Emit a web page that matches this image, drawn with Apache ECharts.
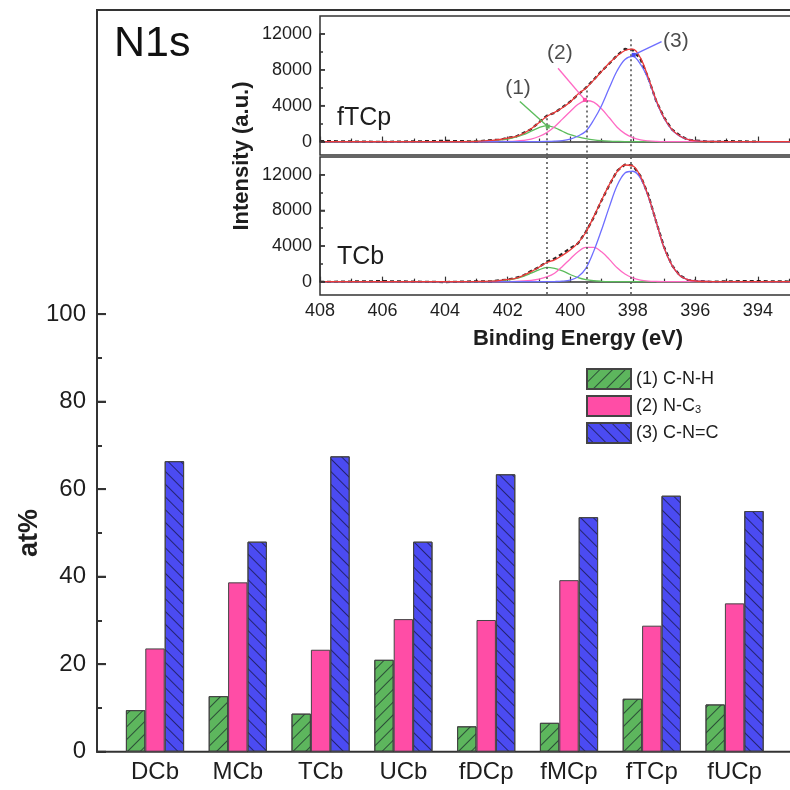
<!DOCTYPE html>
<html>
<head>
<meta charset="utf-8">
<script src="https://cdn.jsdelivr.net/npm/echarts@6/dist/echarts.min.js"></script>
<style>
  html, body { margin: 0; padding: 0; background: #fff; }
  #chart { width: 790px; height: 790px; }
</style>
</head>
<body>
<div id="chart"></div>
<script>
// ---- N1s component fractions (at%) per sample ----
const samples = ['DCb', 'MCb', 'TCb', 'UCb', 'fDCp', 'fMCp', 'fTCp', 'fUCp'];
const seriesNames = ['(1) C-N-H', '(2) N-C3', '(3) C-N=C'];
const cnh = [9.5, 12.7, 8.7, 21.0, 5.8, 6.6, 12.1, 10.8];
const nc3 = [23.6, 38.7, 23.3, 30.3, 30.1, 39.2, 28.8, 33.9];
const cnc = [66.4, 48.0, 67.5, 48.0, 63.4, 53.6, 58.5, 55.0];
const atMajorTicks = [0, 20, 40, 60, 80, 100];
const intensityMajorTicks = [0, 4000, 8000, 12000];

// ---- N1s spectra (inset), binding energy in eV ----
const bindingEnergy = [408, 406, 404, 403, 402.5, 402.25, 402, 401.75, 401.5, 401.25, 401, 400.75, 400.5, 400.25,
  400, 399.75, 399.5, 399.25, 399, 398.75, 398.5, 398.25, 398, 397.75, 397.5, 397.25, 397, 396.75, 396.5,
  396.25, 396, 395.5, 395, 394, 392, 390];

// fTCp
const fTCpRaw = [60, -40, 80, 10, 170, 200, 420, 520, 950, 1380, 2150, 2880, 3200, 3820, 4460, 5230, 6000, 6900,
  7850, 8700, 9620, 10330, 10200, 9150, 7050, 4500, 2700, 1350, 700, 200, 120, -30, 50, -20, null, null];
const fTCpFit = [0, 0, 0, 30, 130, 230, 380, 560, 900, 1420, 2100, 2800, 3250, 3760, 4400, 5300, 5950, 6850,
  7800, 8750, 9550, 10150, 10300, 9300, 7100, 4600, 2650, 1350, 620, 240, 80, 10, 0, 0, 0, 0];
const fTCpPeak1 = [0, 0, 0, 10, 70, 150, 280, 480, 760, 1150, 1550, 1780, 1560, 1150, 760, 520, 330, 190, 100,
  50, 20, 0, 0, 0, 0, 0, 0, 0, 0, 0, 0, 0, 0, 0, 0, 0];
const fTCpPeak2 = [0, 0, 0, 0, 0, 10, 20, 50, 120, 260, 560, 1000, 1650, 2500, 3350, 4150, 4550, 4400, 3650,
  2650, 1600, 880, 430, 180, 70, 20, 0, 0, 0, 0, 0, 0, 0, 0, 0, 0];
const fTCpPeak3 = [0, 0, 0, 0, 0, 0, 0, 0, 0, 0, 0, 10, 40, 110, 280, 620, 1150, 2400, 4000, 6000, 7900, 9150,
  9500, 8600, 6900, 4500, 2600, 1300, 600, 230, 80, 10, 0, 0, 0, 0];

// TCb
const TCbRaw = [-30, 60, -50, 40, 30, 160, 230, 420, 680, 1200, 1620, 2260, 2600, 3150, 3750, 4300, 5600, 7200,
  9100, 10850, 12450, 13150, 13050, 11850, 9700, 6700, 3900, 1850, 720, 200, 90, -20, 40, 60, -30, 20];
const TCbFit = [0, 0, 0, 20, 60, 130, 250, 380, 700, 1120, 1620, 2150, 2450, 2950, 3550, 4350, 5550, 7300,
  9150, 10900, 12350, 13100, 13000, 11800, 9550, 6720, 3800, 1850, 700, 230, 70, 10, 0, 0, 0, 0];
const TCbPeak1 = [0, 0, 0, 0, 30, 90, 190, 350, 600, 950, 1320, 1600, 1480, 1200, 800, 450, 220, 100, 40, 10,
  0, 0, 0, 0, 0, 0, 0, 0, 0, 0, 0, 0, 0, 0, 0, 0];
const TCbPeak2 = [0, 0, 0, 0, 0, 0, 10, 20, 70, 150, 290, 530, 950, 1700, 2550, 3350, 3850, 3850, 3350, 2500,
  1550, 850, 420, 170, 60, 20, 0, 0, 0, 0, 0, 0, 0, 0, 0, 0];
const TCbPeak3 = [0, 0, 0, 0, 0, 0, 0, 0, 0, 0, 0, 0, 10, 50, 180, 560, 1500, 3400, 5800, 8400, 10800, 12200,
  12400, 11600, 9500, 6700, 3800, 1850, 700, 230, 70, 10, 0, 0, 0, 0];

// fitted peak positions (eV) and where the guide lines start in the fTCp panel
const peakCenters = [400.74, 399.46, 398.07];
const fTCpGuideTops = [2600, 5700, 11400];

// peak callouts in the fTCp panel: label position, line start, line end
const calloutText = ['(1)', '(2)', '(3)'];
const calloutLabelAt = [[401.67, 5900], [400.33, 9850], [396.62, 11150]];
const calloutFrom = [[401.61, 4460], [400.39, 8180], [397.08, 11150]];
const calloutTo = [[400.72, 1670], [399.53, 4650], [397.97, 9670]];

const FONT = "'Liberation Sans', Arial, sans-serif";
const TEXT = '#1e1e1e';
const AXIS = '#333';
const barColors = ['#5DB65D', '#FF4DA6', '#4B4BF2'];
const lineColors = ['#5CBC5C', '#FF6AC4', '#6E6EFF'];

// intensity range of each spectrum panel
const I_MIN = -1500, I_MAX = 14000;

const pairs = (vals) => bindingEnergy.map((e, i) => [e, vals[i]]);

const stripe = (rot) => ({
  symbol: 'rect', symbolSize: 1, color: 'rgba(10,10,30,0.6)',
  dashArrayX: [1, 0], dashArrayY: [1, 8], rotation: rot
});

function barSeries(name, data, color, decal) {
  const s = {
    name, type: 'bar', data, xAxisIndex: 0, yAxisIndex: 0,
    barWidth: 19.4, barGap: '0%',
    itemStyle: { color, borderColor: '#444', borderWidth: 1 }
  };
  if (decal) s.itemStyle.decal = decal;
  return s;
}

function curve(name, data, xi, yi, color, width, z, extra) {
  return Object.assign({
    name, type: 'line', data, xAxisIndex: xi, yAxisIndex: yi, smooth: 0.35,
    showSymbol: false, symbol: 'none', silent: true, z,
    lineStyle: { color, width }
  }, extra || {});
}

function guideLines(tops) {
  return {
    silent: true, symbol: ['none', 'none'], label: { show: false },
    lineStyle: { color: '#555', type: [2, 3], width: 1.6 },
    data: peakCenters.map((e, i) => [{ coord: [e, tops[i]] }, { coord: [e, I_MIN] }])
  };
}

function spectrumPanel(prefix, raw, fit, p1, p2, p3, xi, yi, tops) {
  return [
    curve(prefix + ' raw', pairs(raw), xi, yi, '#222', 2, 3,
      { smooth: false, connectNulls: false, lineStyle: { color: 'rgba(25,15,15,0.9)', width: 2.2, type: [4, 3] } }),
    curve(prefix + ' peak 1', pairs(p1), xi, yi, lineColors[0], 1.3, 4),
    curve(prefix + ' peak 2', pairs(p2), xi, yi, lineColors[1], 1.3, 4),
    curve(prefix + ' peak 3', pairs(p3), xi, yi, lineColors[2], 1.3, 4),
    curve(prefix + ' fit', pairs(fit), xi, yi, '#EE3A3A', 1.3, 5, { markLine: guideLines(tops) })
  ];
}

const calloutSeries = calloutText.map((t, i) => ({
  type: 'line', xAxisIndex: 2, yAxisIndex: 2, silent: true, z: 6,
  lineStyle: { color: lineColors[i], width: 1.4 },
  itemStyle: { color: barColors[i] },
  data: [
    { value: calloutFrom[i], symbol: 'none' },
    { value: calloutTo[i], symbol: 'rect', symbolSize: 4 }
  ]
}));

const calloutLabels = {
  type: 'scatter', xAxisIndex: 2, yAxisIndex: 2, silent: true, symbolSize: 0, z: 7,
  data: calloutLabelAt.map((p, i) => ({ value: p, name: calloutText[i] })),
  label: { show: true, position: 'inside', formatter: (p) => p.name, fontSize: 21, color: TEXT, fontFamily: FONT }
};

// inward major tick marks on a scale axis (x axis of the scale grid runs 0..1 over 20 px)
function majorTickMarks(xi, yi, values, length, width) {
  return {
    type: 'scatter', xAxisIndex: xi, yAxisIndex: yi, silent: true, z: 8,
    symbol: 'rect', symbolSize: [length, width],
    itemStyle: { color: AXIS },
    data: values.map((v) => [length / 40, v])
  };
}

function insetXAxis(grid, showLabels) {
  return {
    gridIndex: grid, type: 'value', min: 390, max: 408, interval: 2, inverse: true,
    axisLine: { show: true, lineStyle: { color: AXIS, width: 1.5 } },
    axisTick: { show: true, inside: true, length: 5, lineStyle: { color: AXIS, width: 1.2 } },
    minorTick: { show: true, splitNumber: 2, length: 3, lineStyle: { color: AXIS, width: 1.2 } },
    splitLine: { show: false }, minorSplitLine: { show: false },
    axisLabel: { show: showLabels, fontSize: 18, color: TEXT, fontFamily: FONT, margin: 7, showMinLabel: true, formatter: (v) => String(v) }
  };
}

// labelled tick scale that covers only the labelled part of a panel
function scaleAxis(grid, max, interval, tickLen, minorLen, width, fontSize, margin) {
  return {
    gridIndex: grid, type: 'value', min: 0, max, interval, position: 'left', z: 10,
    axisLine: { show: true, lineStyle: { color: AXIS, width } },
    axisTick: { show: true, inside: true, length: tickLen, lineStyle: { color: AXIS, width } },
    minorTick: { show: true, splitNumber: 2, length: minorLen, lineStyle: { color: AXIS, width } },
    axisLabel: { fontSize, color: TEXT, fontFamily: FONT, margin, showMaxLabel: true, formatter: (v) => String(v) },
    splitLine: { show: false }, minorSplitLine: { show: false }
  };
}

const hiddenX = (grid) => ({ gridIndex: grid, type: 'value', min: 0, max: 1, show: false });

const chart = echarts.init(document.getElementById('chart'), null, { renderer: 'canvas' });

const noBounds = { outerBoundsMode: 'none', containLabel: false, backgroundColor: 'transparent' };
const g = (o) => Object.assign(o, noBounds);

// main plot: 0 at y=751.7, 169.5 at the top frame (y=10)
const MAIN_TOP = 10, MAIN_BOTTOM = 38.3, MAIN_MAX = 169.5;
const mainPlotH = 790 - MAIN_TOP - MAIN_BOTTOM;
const at100Top = MAIN_TOP + mainPlotH * (MAIN_MAX - 100) / MAIN_MAX;

// spectrum panels
const P1 = { top: 16, height: 139 }, P2 = { top: 157, height: 138 };
const scaleBox = (p) => ({
  top: p.top + p.height * (I_MAX - 12000) / (I_MAX - I_MIN),
  height: p.height * 12000 / (I_MAX - I_MIN)
});

chart.setOption({
  animation: false,
  backgroundColor: '#fff',
  textStyle: { fontFamily: FONT },
  grid: [
    g({ left: 113.6, top: MAIN_TOP, width: 662.4, bottom: MAIN_BOTTOM }),
    g({ left: 97, top: MAIN_TOP, width: 710, bottom: MAIN_BOTTOM, show: true, borderColor: AXIS, borderWidth: 2 }),
    g({ left: 320, top: P1.top, width: 563, height: P1.height, show: true, borderColor: AXIS, borderWidth: 1.5 }),
    g({ left: 320, top: P2.top, width: 563, height: P2.height, show: true, borderColor: AXIS, borderWidth: 1.5 }),
    g({ left: 97, top: at100Top, width: 20, bottom: MAIN_BOTTOM }),
    g(Object.assign({ left: 320, width: 20 }, scaleBox(P1))),
    g(Object.assign({ left: 320, width: 20 }, scaleBox(P2)))
  ],
  xAxis: [
    {
      gridIndex: 0, type: 'category', data: samples,
      axisLine: { show: false }, axisTick: { show: false },
      axisLabel: { fontSize: 24, color: TEXT, fontFamily: FONT, margin: 9, interval: 0 }
    },
    hiddenX(1),
    insetXAxis(2, false),
    insetXAxis(3, true),
    hiddenX(4), hiddenX(5), hiddenX(6)
  ],
  yAxis: [
    { gridIndex: 0, type: 'value', min: 0, max: MAIN_MAX, show: false },
    { gridIndex: 1, type: 'value', min: 0, max: MAIN_MAX, show: false },
    { gridIndex: 2, type: 'value', min: I_MIN, max: I_MAX, show: false },
    { gridIndex: 3, type: 'value', min: I_MIN, max: I_MAX, show: false },
    scaleAxis(4, 100, 20, 9, 5, 2, 24, 11),
    scaleAxis(5, 12000, 4000, 5, 3, 1.5, 18, 8),
    scaleAxis(6, 12000, 4000, 5, 3, 1.5, 18, 8)
  ],
  legend: {
    data: seriesNames, orient: 'vertical', left: 586, top: 368,
    itemWidth: 44, itemHeight: 20, itemGap: 5, padding: 0, icon: 'rect',
    selectedMode: false,
    formatter: (n) => n === '(2) N-C3' ? '(2) N-C{sub|3}' : n,
    textStyle: {
      fontSize: 18, color: TEXT, fontFamily: FONT,
      rich: { sub: { fontSize: 11, color: TEXT, fontFamily: FONT, verticalAlign: 'bottom', padding: [8, 0, 0, 0] } }
    }
  },
  series: [
    barSeries(seriesNames[0], cnh, barColors[0], stripe(-Math.PI / 4)),
    barSeries(seriesNames[1], nc3, barColors[1], null),
    barSeries(seriesNames[2], cnc, barColors[2], stripe(Math.PI / 4)),
    ...spectrumPanel('fTCp', fTCpRaw, fTCpFit, fTCpPeak1, fTCpPeak2, fTCpPeak3, 2, 2, fTCpGuideTops),
    ...spectrumPanel('TCb', TCbRaw, TCbFit, TCbPeak1, TCbPeak2, TCbPeak3, 3, 3, [I_MAX, I_MAX, I_MAX]),
    ...calloutSeries,
    calloutLabels,
    majorTickMarks(4, 4, atMajorTicks, 9, 2),
    majorTickMarks(5, 5, intensityMajorTicks, 5, 1.5),
    majorTickMarks(6, 6, intensityMajorTicks, 5, 1.5)
  ],
  graphic: [
    { type: 'text', x: 114, y: 44, style: { text: 'N1s', font: '43px ' + FONT, fill: '#111', align: 'left', verticalAlign: 'middle' } },
    { type: 'text', x: 337, y: 118, style: { text: 'fTCp', font: '25px ' + FONT, fill: TEXT, align: 'left', verticalAlign: 'middle' } },
    { type: 'text', x: 337, y: 257, style: { text: 'TCb', font: '25px ' + FONT, fill: TEXT, align: 'left', verticalAlign: 'middle' } },
    { type: 'text', x: 242, y: 156, rotation: Math.PI / 2, style: { text: 'Intensity (a.u.)', font: 'bold 22px ' + FONT, fill: TEXT, align: 'center', verticalAlign: 'middle' } },
    { type: 'text', x: 578, y: 339, style: { text: 'Binding Energy (eV)', font: 'bold 22px ' + FONT, fill: TEXT, align: 'center', verticalAlign: 'middle' } },
    { type: 'text', x: 30, y: 533, rotation: Math.PI / 2, style: { text: 'at%', font: 'bold 27px ' + FONT, fill: TEXT, align: 'center', verticalAlign: 'middle' } }
  ]
});
</script>
</body>
</html>
